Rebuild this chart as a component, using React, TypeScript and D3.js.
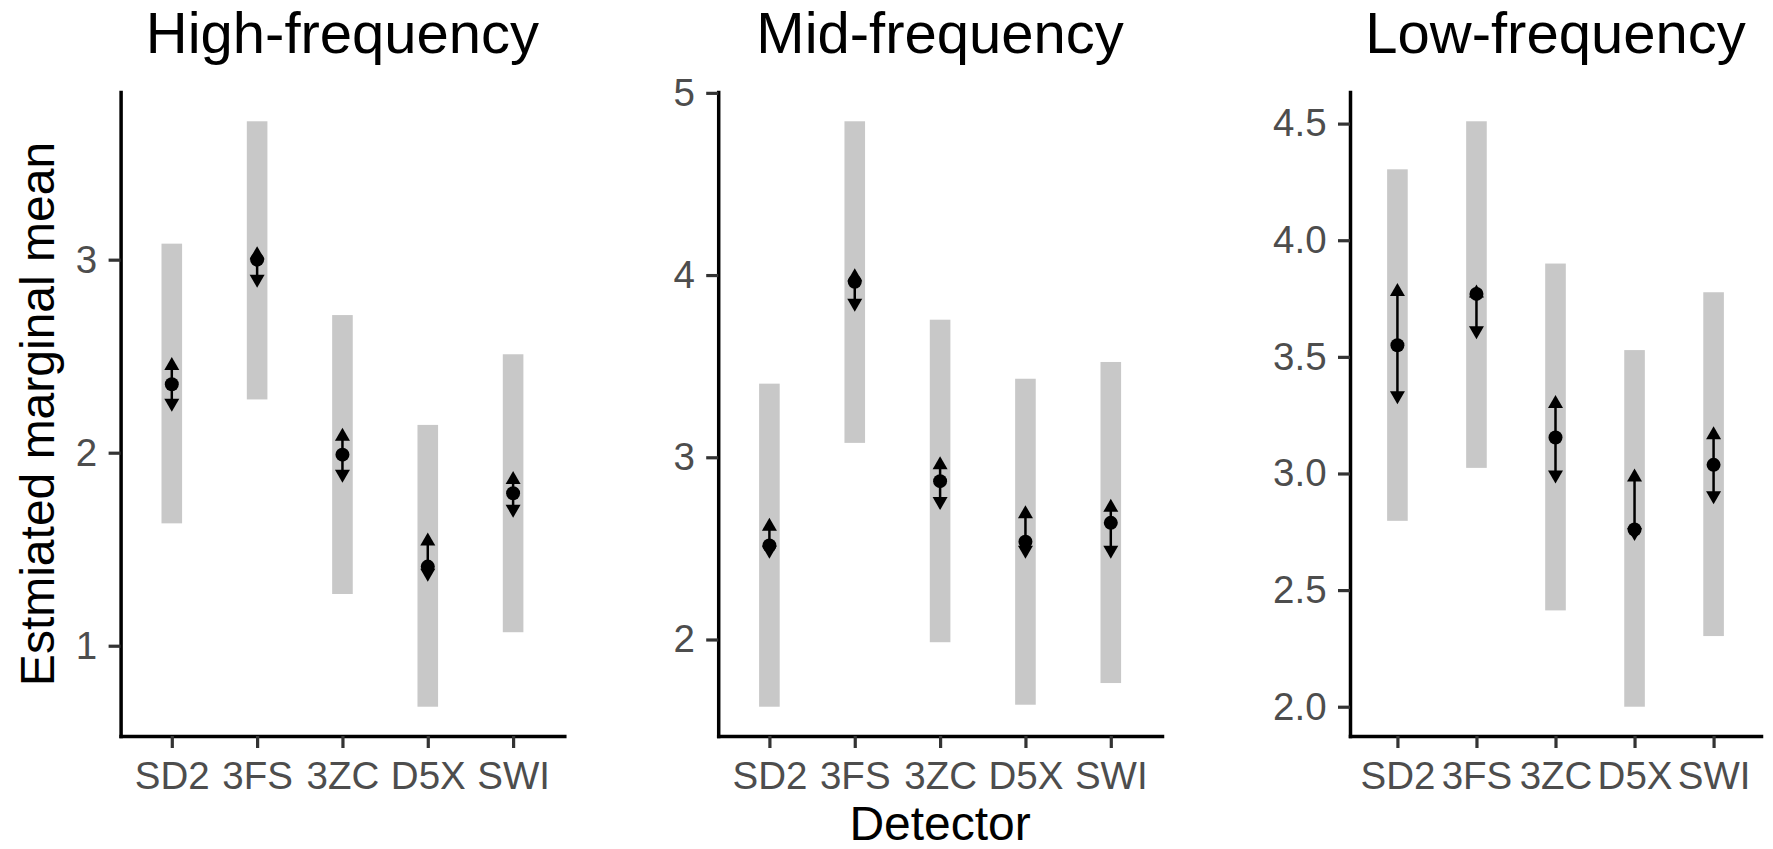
import React, { useEffect, useRef } from 'react'
import * as d3 from 'd3'

// Detectors on the x axis
const detectors = ['SD2', '3FS', '3ZC', 'D5X', 'SWI']

// High-frequency
const highMean = [2.355, 3.0, 1.99, 1.41, 1.79]
const highCiLow = [1.634, 2.276, 1.268, 0.684, 1.07]
const highCiHigh = [3.083, 3.717, 2.713, 2.144, 2.51]
const highCmpLow = [2.212, 2.855, 1.844, 1.332, 1.663]
const highCmpHigh = [2.496, 3.07, 2.129, 1.586, 1.905]
const highTicks = [1, 2, 3]

// Mid-frequency
const midMean = [2.516, 3.963, 2.869, 2.536, 2.64]
const midCiLow = [1.631, 3.079, 1.985, 1.642, 1.761]
const midCiHigh = [3.404, 4.844, 3.755, 3.431, 3.523]
const midCmpLow = [2.443, 3.799, 2.71, 2.443, 2.443]
const midCmpHigh = [2.668, 4.037, 3.005, 2.737, 2.772]
const midTicks = [2, 3, 4, 5]

// Low-frequency
const lowMean = [3.55, 3.77, 3.154, 2.76, 3.037]
const lowCiLow = [2.797, 3.024, 2.413, 2.0, 2.303]
const lowCiHigh = [4.304, 4.51, 3.9, 3.529, 3.777]
const lowCmpLow = [3.297, 3.575, 2.957, 2.711, 2.868]
const lowCmpHigh = [3.817, 3.81, 3.336, 3.021, 3.203]
const lowTicks = [2.0, 2.5, 3.0, 3.5, 4.0, 4.5]

const W = 1773
const H = 849
const TOP = 92
const BOTTOM = 736
const FONT = '"Liberation Sans", Arial, Helvetica, sans-serif'
const BAR_W = 20.6
const HEAD_L = 13
const HEAD_W = 7.5

const panels = [
    { title: 'High-frequency', mean: highMean, ciLow: highCiLow, ciHigh: highCiHigh, cmpLow: highCmpLow, cmpHigh: highCmpHigh, ticks: highTicks, fmt: d3.format('d'), left: 120.6, right: 564.3 },
    { title: 'Mid-frequency', mean: midMean, ciLow: midCiLow, ciHigh: midCiHigh, cmpLow: midCmpLow, cmpHigh: midCmpHigh, ticks: midTicks, fmt: d3.format('d'), left: 718.2, right: 1162 },
    { title: 'Low-frequency', mean: lowMean, ciLow: lowCiLow, ciHigh: lowCiHigh, cmpLow: lowCmpLow, cmpHigh: lowCmpHigh, ticks: lowTicks, fmt: d3.format('.1f'), left: 1350, right: 1761 },
]

const styleAxis = sel => {
    sel.select('.domain').attr('stroke', '#000').attr('stroke-width', 3.5).attr('stroke-linecap', 'square')
    sel.selectAll('.tick line').attr('stroke', '#333').attr('stroke-width', 3.2)
    sel.selectAll('.tick text')
        .attr('fill', '#4d4d4d')
        .attr('font-size', 38.5)
        .attr('font-family', FONT)
}

const XAxis = ({ scale }) => {
    const axis = useRef(null)
    useEffect(() => {
        const g = d3.select(axis.current)
        g.call(d3.axisBottom(scale).tickSize(12).tickSizeOuter(0).tickPadding(13.2))
        styleAxis(g)
    })
    return <g ref={axis} transform={`translate(0, ${BOTTOM})`} />
}

const YAxis = ({ scale, left, ticks, fmt }) => {
    const axis = useRef(null)
    useEffect(() => {
        const g = d3.select(axis.current)
        g.call(d3.axisLeft(scale).tickValues(ticks).tickFormat(fmt).tickSize(12).tickSizeOuter(0).tickPadding(11.4))
        styleAxis(g)
    })
    return <g ref={axis} transform={`translate(${left}, 0)`} />
}

const Panel = ({ p }) => {
    const x = d3.scalePoint().domain(detectors).range([p.left, p.right]).padding(0.6)
    const lo = d3.min(p.ciLow)
    const hi = d3.max(p.ciHigh)
    const pad = (hi - lo) * 0.05
    const y = d3.scaleLinear().domain([lo - pad, hi + pad]).range([BOTTOM, TOP])

    return (
        <g>
            <text
                x={(p.left + p.right) / 2}
                y={53.3}
                textAnchor='middle'
                fontSize={58}
                fontFamily={FONT}
                fill='#000'
            >
                {p.title}
            </text>
            {detectors.map((d, i) => (
                <rect
                    key={'bar' + d}
                    x={x(d) - BAR_W / 2}
                    y={y(p.ciHigh[i])}
                    width={BAR_W}
                    height={y(p.ciLow[i]) - y(p.ciHigh[i])}
                    fill='#c8c8c8'
                />
            ))}
            <XAxis scale={x} />
            <YAxis scale={y} left={p.left} ticks={p.ticks} fmt={p.fmt} />
            {detectors.map((d, i) => {
                const cx = x(d)
                const up = y(p.cmpHigh[i])
                const dn = y(p.cmpLow[i])
                return (
                    <g key={'cmp' + d}>
                        <line x1={cx} x2={cx} y1={up + 4} y2={dn - 4} stroke='#000' strokeWidth={2.5} />
                        <path d={`M${cx},${up} L${cx - HEAD_W},${up + HEAD_L} L${cx + HEAD_W},${up + HEAD_L} Z`} fill='#000' />
                        <path d={`M${cx},${dn} L${cx - HEAD_W},${dn - HEAD_L} L${cx + HEAD_W},${dn - HEAD_L} Z`} fill='#000' />
                        <circle cx={cx} cy={y(p.mean[i])} r={7} fill='#000' />
                    </g>
                )
            })}
        </g>
    )
}

const App = () => {
    return (
        <svg width={W} height={H} style={{ position: 'absolute', left: 0, top: 0, background: '#fff' }}>
            <rect width={W} height={H} fill='#fff' />
            {panels.map(p => <Panel key={p.title} p={p} />)}
            <text
                transform={`translate(53.5, ${(TOP + BOTTOM) / 2}) rotate(-90)`}
                textAnchor='middle'
                fontSize={48}
                fontFamily={FONT}
                fill='#000'
            >
                Estmiated marginal mean
            </text>
            <text
                x={(panels[1].left + panels[1].right) / 2}
                y={840}
                textAnchor='middle'
                fontSize={48}
                fontFamily={FONT}
                fill='#000'
            >
                Detector
            </text>
        </svg>
    )
}

export default App
